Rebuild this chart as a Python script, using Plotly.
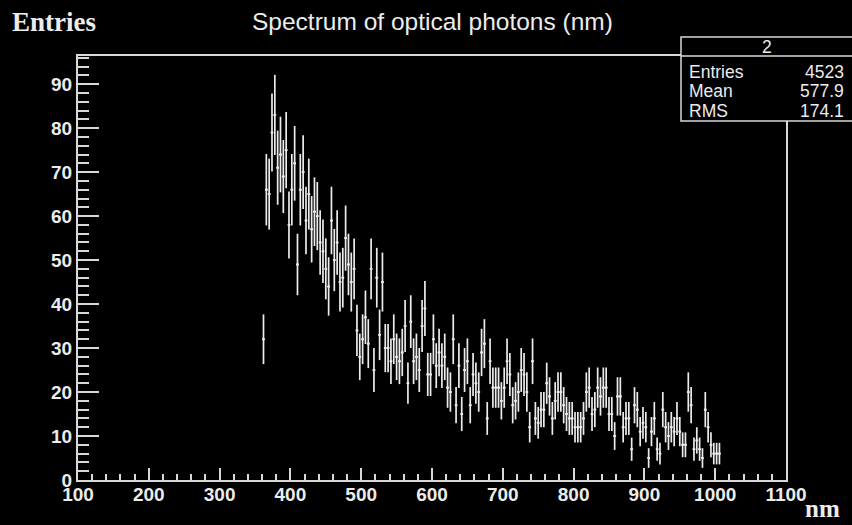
import numpy as np
import plotly.graph_objects as go

# Histogram of optical photon wavelengths, 4 nm bins starting at 360 nm
bin_width = 4.0
first_bin_center = 362.0
counts = [
    # 360 - 520 nm
    32, 66, 65, 79, 83, 71, 74, 69, 75, 58, 66, 72, 49, 66, 70, 59, 65, 57, 61, 60,
    54, 52, 48, 44, 59, 50, 54, 45, 46, 55, 49, 45, 48, 34, 28, 32, 37, 31, 48, 25,
    # 520 - 680 nm
    46, 33, 45, 30, 30, 27, 32, 28, 27, 29, 35, 22, 36, 27, 28, 25, 35, 39, 24, 24,
    32, 26, 29, 26, 28, 21, 20, 32, 17, 26, 15, 25, 27, 17, 24, 22, 20, 29, 31, 14,
    # 680 - 840 nm
    27, 21, 21, 21, 18, 21, 27, 24, 17, 18, 20, 25, 24, 20, 12, 27, 14, 13, 16, 16,
    22, 19, 14, 18, 20, 20, 17, 15, 14, 14, 12, 12, 12, 14, 20, 21, 15, 16, 21, 19,
    # 840 - 1008 nm
    21, 21, 15, 15, 10, 19, 19, 12, 14, 14, 7, 17, 16, 11, 13, 12, 5, 11, 14, 7,
    6, 16, 12, 10, 12, 11, 14, 11, 8, 8, 20, 17, 7, 9, 7, 5, 16, 12, 8, 6, 6, 6,
]

stats_title = "2"
stats_labels = ["Entries", "Mean", "RMS"]
stats_values = ["4523", "577.9", "174.1"]

counts = np.array(counts, dtype=float)
centers = first_bin_center + bin_width * np.arange(len(counts))
errors = np.sqrt(counts)

fg = "#ececec"
line_col = "#d8d8d8"

fig = go.Figure()
fig.add_trace(go.Scatter(
    x=centers, y=counts, mode="markers",
    marker=dict(size=2, color=fg, symbol="square"),
    error_y=dict(type="data", array=errors, visible=True, width=0,
                 thickness=1.7, color=fg),
    error_x=dict(type="constant", value=bin_width / 2, visible=True, width=0,
                 thickness=1.7, color=fg),
    showlegend=False, hoverinfo="x+y",
))

tick_font = dict(family="Liberation Sans, Arial, sans-serif", size=19,
                 color=fg, weight="bold")

fig.update_xaxes(
    range=[100, 1100], dtick=100, tick0=100,
    ticks="inside", ticklen=12, tickwidth=1.5, tickcolor=line_col,
    minor=dict(dtick=20, tick0=100, ticks="inside", ticklen=6,
               tickwidth=1.5, tickcolor=line_col),
    showline=True, linecolor=line_col, linewidth=2, mirror=True,
    showgrid=False, zeroline=False, tickfont=tick_font,
    ticklabelstandoff=-4,
)
fig.update_yaxes(
    range=[0, 96.4], dtick=10, tick0=0,
    ticks="inside", ticklen=21, tickwidth=1.5, tickcolor=line_col,
    minor=dict(dtick=2, tick0=0, ticks="inside", ticklen=11,
               tickwidth=1.5, tickcolor=line_col),
    showline=True, linecolor=line_col, linewidth=2, mirror=True,
    showgrid=False, zeroline=False, tickfont=tick_font,
)

# pixel -> paper helpers for the 852x525 canvas
L, R, T, B = 78, 786, 56, 480
def px(x):
    return (x - L) / (R - L)
def py(y):
    return (B - y) / (B - T)

shapes = [
    # statistics box, partly beyond the right edge of the canvas
    dict(type="rect", xref="paper", yref="paper",
         x0=px(681), x1=px(870), y0=py(121), y1=py(37),
         fillcolor="black", line=dict(color=line_col, width=1.5), layer="above"),
    dict(type="line", xref="paper", yref="paper",
         x0=px(681), x1=px(870), y0=py(56), y1=py(56),
         line=dict(color=line_col, width=1.5), layer="above"),
]

stats_font = dict(family="Liberation Sans, Arial, sans-serif", size=17.5, color=fg)
annotations = [
    dict(text="Spectrum of optical photons (nm)", xref="paper", yref="paper",
         x=px(432), y=py(21), xanchor="center", yanchor="middle", showarrow=False,
         font=dict(family="Liberation Sans, Arial, sans-serif", size=24.5, color=fg)),
    dict(text="<b>Entries</b>", xref="paper", yref="paper",
         x=px(10), y=py(22), xanchor="left", yanchor="middle", showarrow=False,
         font=dict(family="Liberation Serif, Times New Roman, serif", size=27, color=fg)),
    dict(text="<b>nm</b>", xref="paper", yref="paper",
         x=px(842), y=py(524), xanchor="right", yanchor="bottom", showarrow=False,
         font=dict(family="Liberation Serif, Times New Roman, serif", size=25, color=fg)),
    dict(text=stats_title, xref="paper", yref="paper",
         x=px(767), y=py(47), xanchor="center", yanchor="middle", showarrow=False,
         font=stats_font),
]
row_y = [72, 91, 111]
for lab, val, yy in zip(stats_labels, stats_values, row_y):
    annotations.append(dict(text=lab, xref="paper", yref="paper", x=px(687), y=py(yy),
                            xanchor="left", yanchor="middle", showarrow=False, font=stats_font))
    annotations.append(dict(text=val, xref="paper", yref="paper", x=px(846), y=py(yy),
                            xanchor="right", yanchor="middle", showarrow=False, font=stats_font))

fig.update_layout(
    width=852, height=525,
    margin=dict(l=L, r=852 - R, t=T, b=525 - B),
    paper_bgcolor="black", plot_bgcolor="black",
    shapes=shapes, annotations=annotations,
)

fig.write_html("out.html")
